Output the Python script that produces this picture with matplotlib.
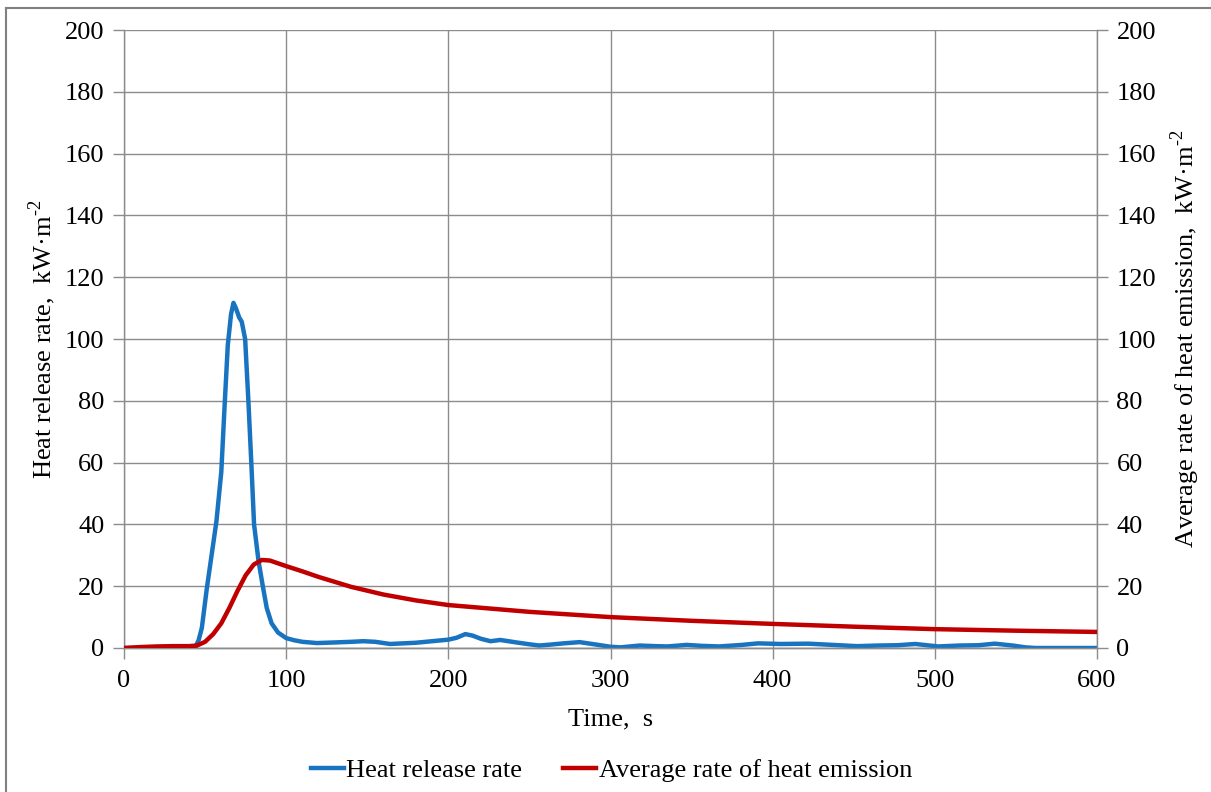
import matplotlib
matplotlib.use('Agg')
import matplotlib.pyplot as plt
from matplotlib.lines import Line2D

plt.rcParams['font.family'] = ['Liberation Serif', 'DejaVu Serif']
plt.rcParams['mathtext.fontset'] = 'custom'
plt.rcParams['mathtext.rm'] = 'Liberation Serif'

# heat release rate (blue)
t_hrr = [0, 10, 20, 30, 40, 44, 46, 48, 51, 54, 57, 60, 62, 64, 66, 67.5, 69, 71, 72.6,
         74.7, 76.7, 78.5, 80.2, 83, 85.6, 88, 91, 95, 100, 105, 110, 119, 130, 140,
         147.6, 155, 164, 172, 180, 190, 200, 205, 210.5, 215, 220, 226, 232, 242,
         250, 256, 263, 271, 281, 290, 300, 306, 318, 328, 335, 347, 356, 367, 381,
         391, 405, 422, 437, 452, 465, 477, 488, 502, 515, 527, 537, 548, 556, 562,
         580, 600]
hrr = [0, 0, 0, 0, 0, 0.3, 2.5, 6.5, 19, 30, 41, 57, 78, 98, 108, 111.7, 110, 107, 105.6,
       100, 80, 60, 40, 28, 20, 13, 8, 5, 3.2, 2.5, 2.0, 1.6, 1.8, 2.0, 2.2, 2.0, 1.3,
       1.5, 1.7, 2.2, 2.7, 3.3, 4.5, 4.0, 3.0, 2.2, 2.6, 1.8, 1.2, 0.8, 1.1, 1.5, 1.9,
       1.2, 0.4, 0.2, 0.8, 0.6, 0.5, 1.0, 0.7, 0.5, 1.0, 1.5, 1.3, 1.4, 1.0, 0.6, 0.8,
       0.9, 1.3, 0.5, 0.8, 0.9, 1.4, 0.8, 0.2, 0, 0, 0]

# average rate of heat emission (red)
t_arhe = [0, 10, 20, 30, 40, 45, 50, 55, 60, 65, 70, 75, 80, 85, 90, 95, 100, 110,
          120, 140, 160, 180, 200, 250, 300, 350, 400, 450, 500, 550, 600]
arhe = [0, 0.3, 0.5, 0.6, 0.6, 0.8, 2.0, 4.5, 8, 13, 18.5, 23.5, 27, 28.5, 28.3, 27.4,
        26.5, 24.8, 23.0, 19.8, 17.3, 15.4, 13.9, 11.7, 10.0, 8.8, 7.8, 6.9, 6.1, 5.6, 5.2]

blue = '#1874C1'
red = '#C00000'
grid_c = '#8C8C8C'
fs = 19

fig = plt.figure(figsize=(12.11, 7.92), dpi=100)
ax = fig.add_axes([124 / 1211, 1 - 648 / 792, (1097 - 124) / 1211, (648 - 30) / 792])
ax2 = ax.twinx()

ax.plot(t_hrr, hrr, color=blue, lw=3.2, solid_joinstyle='round', zorder=3)
ax2.plot(t_arhe, arhe, color=red, lw=3.2, solid_joinstyle='round', zorder=3)

for a in (ax, ax2):
    a.set_xlim(0, 600)
    a.set_ylim(0, 200)
    a.set_yticks(range(0, 201, 20))
    for s in a.spines.values():
        s.set_color(grid_c)
        s.set_linewidth(1.0)
    a.spines['top'].set_visible(False)
    a.tick_params(colors=grid_c, labelcolor='black', labelsize=fs, length=8, width=1.0,
                  pad=6)
ax2.spines['left'].set_visible(False)
ax.spines['right'].set_visible(False)
ax.tick_params(axis='x', pad=8)

ax.set_xticks(range(0, 601, 100))
ax.grid(True, color=grid_c, lw=1.0)
ax.set_axisbelow(True)

sup = r'$^{\text{-2}}$'
ax.set_xlabel('Time,  s', fontsize=fs, labelpad=12)
ax.set_ylabel('Heat release rate,  kW·m' + sup, fontsize=fs, labelpad=5)
ax2.set_ylabel('Average rate of heat emission,  kW·m' + sup, fontsize=fs, labelpad=9)

handles = [Line2D([], [], color=blue, lw=3.2), Line2D([], [], color=red, lw=3.2)]
fig.legend(handles, ['Heat release rate', 'Average rate of heat emission'],
           loc='center', bbox_to_anchor=(0.505, 1 - 770 / 792), ncol=2, frameon=False,
           fontsize=fs, handlelength=1.25, handletextpad=0.1, columnspacing=1.55)

# outer frame (only left and top edges are visible in the picture)
fig.add_artist(Line2D([6 / 1211, 6 / 1211], [0, 1 - 8 / 792], color='#808080', lw=1.5))
fig.add_artist(Line2D([6 / 1211, 1], [1 - 8 / 792, 1 - 8 / 792], color='#808080', lw=1.5))

fig.savefig('out.png', dpi=100)
